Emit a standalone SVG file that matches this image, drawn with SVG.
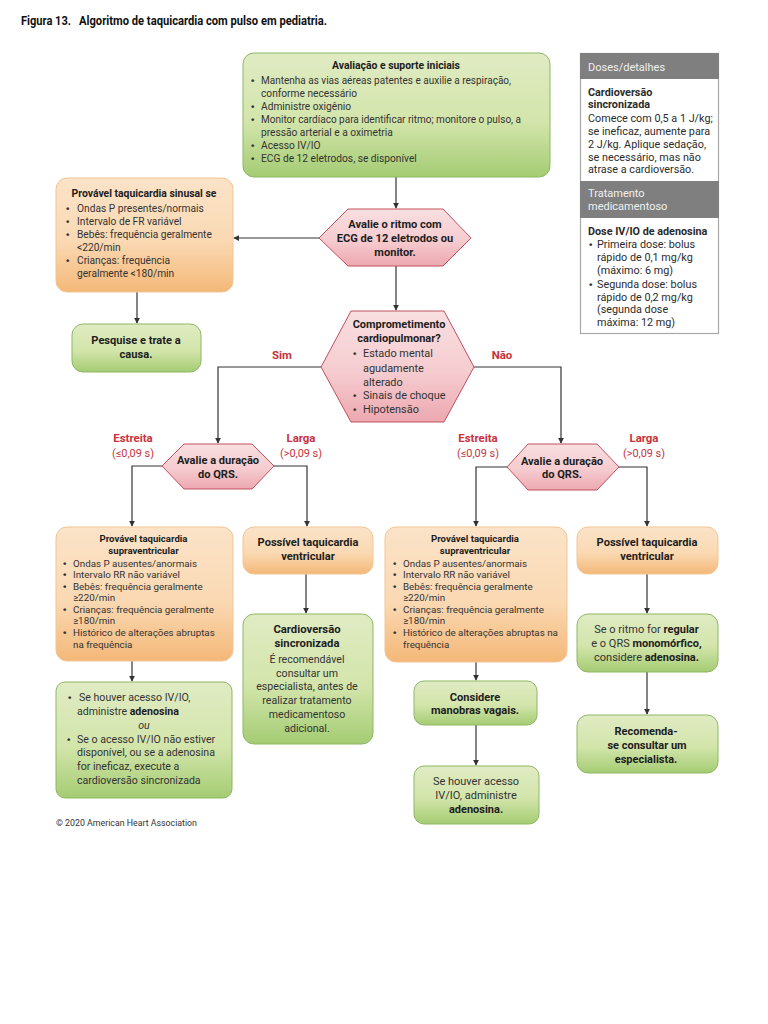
<svg xmlns="http://www.w3.org/2000/svg" width="768" height="1024" viewBox="0 0 768 1024">
<defs>
<linearGradient id="gg" x1="0" y1="0" x2="0" y2="1"><stop offset="0" stop-color="#e0ebc3"/><stop offset="0.55" stop-color="#d3e5ab"/><stop offset="1" stop-color="#a4cc73"/></linearGradient>
<linearGradient id="og" x1="0" y1="0" x2="0" y2="1"><stop offset="0" stop-color="#fbe3c8"/><stop offset="0.55" stop-color="#fad9b3"/><stop offset="1" stop-color="#f4b878"/></linearGradient>
<linearGradient id="rg" x1="0" y1="0" x2="0" y2="1"><stop offset="0" stop-color="#f9dfe0"/><stop offset="0.55" stop-color="#f5ccd0"/><stop offset="1" stop-color="#eda8b0"/></linearGradient>
<marker id="a" viewBox="0 0 8 8" refX="7" refY="4" markerWidth="6" markerHeight="6" markerUnits="userSpaceOnUse" orient="auto"><path d="M0 0L8 4L0 8Z" fill="#333"/></marker>
</defs>
<style>
text{font-family:"Roboto","Liberation Sans",sans-serif;fill:#333;font-size:10.6px}
.b{font-weight:700;fill:#1d1d1d}
.c{text-anchor:middle}
.r{font-weight:700;fill:#c8323c;text-anchor:middle;font-size:11.4px}
.rr{font-weight:400;fill:#c8323c;text-anchor:middle;font-size:10.9px}
.t{font-size:11.1px}
.s{font-size:9.8px}
.m{font-size:10.2px}
.d{font-size:15px}
.e{font-size:9.8px;font-weight:700;font-family:"Liberation Sans",sans-serif}
.g{fill:url(#gg);stroke:#8fb765;stroke-width:1}
.o{fill:url(#og);stroke:#f2c594;stroke-width:1}
.h{fill:url(#rg);stroke:#c0505f;stroke-width:1}
.w{fill:#fff;stroke:#a8a8a8;stroke-width:1.2}
.hd{fill:#7f7f7f}
.ht{fill:#f0f0f0;font-size:11px}
.k{fill:#2b2b2b;font-size:10.8px}
#conn path{fill:none;stroke:#333;stroke-width:1.2;marker-end:url(#a)}
</style>
<rect width="768" height="1024" fill="#fff"/>
<g id="title">
<text x="21" y="25" class="b" style="font-size:12.5px;fill:#111" textLength="50" lengthAdjust="spacingAndGlyphs">Figura 13.</text>
<text x="79" y="25" class="b" style="font-size:12.5px;fill:#111" textLength="248" lengthAdjust="spacingAndGlyphs">Algoritmo de taquicardia com pulso em pediatria.</text>
</g>
<g id="conn">
<path d="M396 177V208"/>
<path d="M319 238H234"/>
<path d="M396 266V310"/>
<path d="M137 292V323"/>
<path d="M321 367H218V443"/>
<path d="M474 367H561V443"/>
<path d="M162 466H132V526"/>
<path d="M274 466H307V526"/>
<path d="M507 467H476V526"/>
<path d="M619 467H647V526"/>
<path d="M132 661V681"/>
<path d="M306 574V613"/>
<path d="M476 662V680"/>
<path d="M476 725V765"/>
<path d="M647 574V613"/>
<path d="M647 672V714"/>
</g>
<g id="n-inicial">
<rect class="g" x="243" y="53" width="307" height="124" rx="11"/>
<text x="396" y="69" class="b c" style="font-size:10.4px">Avaliação e suporte iniciais</text>
<text x="251" y="84" class="e">•</text><text x="261" y="84" class="m" textLength="250" lengthAdjust="spacingAndGlyphs">Mantenha as vias aéreas patentes e auxilie a respiração,</text>
<text x="261" y="97" class="m">conforme necessário</text>
<text x="251" y="110" class="e">•</text><text x="261" y="110" class="m">Administre oxigênio</text>
<text x="251" y="123" class="e">•</text><text x="261" y="123" class="m" textLength="260" lengthAdjust="spacingAndGlyphs">Monitor cardíaco para identificar ritmo; monitore o pulso, a</text>
<text x="261" y="136" class="m">pressão arterial e a oximetria</text>
<text x="251" y="149" class="e">•</text><text x="261" y="149" class="m">Acesso IV/IO</text>
<text x="251" y="162" class="e">•</text><text x="261" y="162" class="m">ECG de 12 eletrodos, se disponível</text>
</g>
<g id="n-sinusal">
<rect class="o" x="56" y="178" width="177" height="114" rx="11"/>
<text x="144" y="197" class="b c" style="font-size:10.4px">Provável taquicardia sinusal se</text>
<text x="66" y="212" class="e">•</text><text x="77" y="212" class="m">Ondas P presentes/normais</text>
<text x="66" y="225" class="e">•</text><text x="77" y="225" class="m">Intervalo de FR variável</text>
<text x="66" y="238" class="e">•</text><text x="77" y="238" class="m">Bebês: frequência geralmente</text>
<text x="77" y="251" class="m">&lt;220/min</text>
<text x="66" y="264" class="e">•</text><text x="77" y="264" class="m">Crianças: frequência</text>
<text x="77" y="277" class="m">geralmente &lt;180/min</text>
</g>
<g id="n-causa">
<rect class="g" x="72" y="324" width="129" height="48" rx="11"/>
<text x="136" y="344" class="b c t">Pesquise e trate a</text>
<text x="136" y="358" class="b c t">causa.</text>
</g>
<g id="n-ritmo">
<polygon class="h" points="319,238 348,209 443,209 471,238 443,266 348,266"/>
<text x="395" y="228" class="b c t">Avalie o ritmo com</text>
<text x="395" y="242" class="b c t">ECG de 12 eletrodos ou</text>
<text x="395" y="256" class="b c t">monitor.</text>
</g>
<g id="n-comprometimento">
<polygon class="h" points="321,367 351,311 444,311 474,367 444,422 351,422"/>
<text x="399" y="328" class="b c" style="font-size:11px">Comprometimento</text>
<text x="399" y="342" class="b c" style="font-size:11px">cardiopulmonar?</text>
<text x="353" y="357" class="e">•</text><text x="363" y="357" style="font-size:10.9px">Estado mental</text>
<text x="363" y="372" style="font-size:10.9px">agudamente</text>
<text x="363" y="386" style="font-size:10.9px">alterado</text>
<text x="353" y="399" class="e">•</text><text x="363" y="399" style="font-size:10.9px">Sinais de choque</text>
<text x="353" y="413" class="e">•</text><text x="363" y="413" style="font-size:10.9px">Hipotensão</text>
</g>
<text x="282" y="359" class="r">Sim</text>
<text x="502" y="359" class="r">Não</text>
<text x="133" y="442" class="r">Estreita</text>
<text x="133" y="457" class="rr">(≤0,09 s)</text>
<text x="301" y="442" class="r">Larga</text>
<text x="301" y="457" class="rr">(&gt;0,09 s)</text>
<text x="478" y="442" class="r">Estreita</text>
<text x="478" y="457" class="rr">(≤0,09 s)</text>
<text x="644" y="442" class="r">Larga</text>
<text x="644" y="457" class="rr">(&gt;0,09 s)</text>
<g id="n-qrs1">
<polygon class="h" points="162,466 184,444 252,444 274,466 252,489 184,489"/>
<text x="218" y="464" class="b c t">Avalie a duração</text>
<text x="218" y="478" class="b c t">do QRS.</text>
</g>
<g id="n-qrs2">
<polygon class="h" points="507,467 528,444 597,444 619,467 597,490 528,490"/>
<text x="562" y="465" class="b c t">Avalie a duração</text>
<text x="562" y="478" class="b c t">do QRS.</text>
</g>
<g id="n-supra1">
<rect class="o" x="56" y="527" width="177" height="134" rx="11"/>
<text x="143.500" y="542" class="b c" style="font-size:9.6px">Provável taquicardia</text>
<text x="143.500" y="554" class="b c" style="font-size:9.6px">supraventricular</text>
<text x="63" y="567" class="e">•</text><text x="73" y="567" class="s">Ondas P ausentes/anormais</text>
<text x="63" y="578" class="e">•</text><text x="73" y="578" class="s">Intervalo RR não variável</text>
<text x="63" y="590" class="e">•</text><text x="73" y="590" class="s">Bebês: frequência geralmente</text>
<text x="73" y="601" class="s">≥220/min</text>
<text x="63" y="613" class="e">•</text><text x="73" y="613" class="s">Crianças: frequência geralmente</text>
<text x="73" y="624" class="s">≥180/min</text>
<text x="63" y="636" class="e">•</text><text x="73" y="636" class="s">Histórico de alterações abruptas</text>
<text x="73" y="648" class="s">na frequência</text>
</g>
<g id="n-tv1">
<rect class="o" x="243" y="527" width="130" height="47" rx="11"/>
<text x="308" y="546" class="b c t">Possível taquicardia</text>
<text x="308" y="560" class="b c t">ventricular</text>
</g>
<g id="n-adeno1">
<rect class="g" x="56" y="682" width="176" height="116" rx="9"/>
<text x="68" y="701" class="e">•</text><text x="79" y="701">Se houver acesso IV/IO,</text>
<text x="77" y="715">administre <tspan class="b">adenosina</tspan></text>
<text x="144" y="729" class="c" font-style="italic">ou</text>
<text x="67" y="743" class="e">•</text><text x="77" y="743">Se o acesso IV/IO não estiver</text>
<text x="77" y="756">disponível, ou se a adenosina</text>
<text x="77" y="770">for ineficaz, execute a</text>
<text x="77" y="784">cardioversão sincronizada</text>
</g>
<g id="n-cardio">
<rect class="g" x="243" y="614" width="130" height="130" rx="11"/>
<text x="307" y="633" class="b c" style="font-size:11.300px">Cardioversão</text>
<text x="307" y="647" class="b c" style="font-size:11.300px">sincronizada</text>
<text x="307" y="663" class="c">É recomendável</text>
<text x="307" y="677" class="c">consultar um</text>
<text x="307" y="690" class="c">especialista, antes de</text>
<text x="307" y="704" class="c">realizar tratamento</text>
<text x="307" y="718" class="c">medicamentoso</text>
<text x="307" y="732" class="c">adicional.</text>
</g>
<g id="n-supra2">
<rect class="o" x="385" y="527" width="182" height="135" rx="11"/>
<text x="475" y="542" class="b c" style="font-size:9.6px">Provável taquicardia</text>
<text x="475" y="554" class="b c" style="font-size:9.6px">supraventricular</text>
<text x="393" y="567" class="e">•</text><text x="403" y="567" class="s">Ondas P ausentes/anormais</text>
<text x="393" y="578" class="e">•</text><text x="403" y="578" class="s">Intervalo RR não variável</text>
<text x="393" y="590" class="e">•</text><text x="403" y="590" class="s">Bebês: frequência geralmente</text>
<text x="403" y="601" class="s">≥220/min</text>
<text x="393" y="613" class="e">•</text><text x="403" y="613" class="s">Crianças: frequência geralmente</text>
<text x="403" y="624" class="s">≥180/min</text>
<text x="393" y="636" class="e">•</text><text x="403" y="636" class="s">Histórico de alterações abruptas na</text>
<text x="403" y="648" class="s">frequência</text>
</g>
<g id="n-vagais">
<rect class="g" x="414" y="681" width="123" height="44" rx="10"/>
<text x="475" y="701" class="b c t">Considere</text>
<text x="475" y="714" class="b c t">manobras vagais.</text>
</g>
<g id="n-adeno2">
<rect class="g" x="414" y="766" width="125" height="58" rx="10"/>
<text x="476" y="785" class="c" style="font-size:11px">Se houver acesso</text>
<text x="476" y="799" class="c" style="font-size:11px">IV/IO, administre</text>
<text x="476" y="813" class="b c" style="font-size:11px">adenosina.</text>
</g>
<g id="n-tv2">
<rect class="o" x="577" y="527" width="141" height="47" rx="11"/>
<text x="647" y="546" class="b c t">Possível taquicardia</text>
<text x="647" y="560" class="b c t">ventricular</text>
</g>
<g id="n-regular">
<rect class="g" x="577" y="614" width="141" height="58" rx="11"/>
<text x="646.500" y="633" class="c" style="font-size:11px">Se o ritmo for <tspan class="b">regular</tspan></text>
<text x="646.500" y="647" class="c" style="font-size:11px">e o QRS <tspan class="b">monomórfico,</tspan></text>
<text x="646.500" y="661" class="c" style="font-size:11px">considere <tspan class="b">adenosina.</tspan></text>
</g>
<g id="n-recomenda">
<rect class="g" x="577" y="715" width="141" height="58" rx="11"/>
<text x="646" y="735" class="b c" style="font-size:11px">Recomenda-</text>
<text x="647" y="749" class="b c" style="font-size:11px">se consultar um</text>
<text x="646" y="763" class="b c" style="font-size:11px">especialista.</text>
</g>
<text id="copy" x="56" y="826" style="font-size:8.8px">© 2020 American Heart Association</text>
<g id="n-doses">
<rect class="w" x="580.500" y="53.500" width="138" height="280"/>
<rect class="hd" x="580" y="53" width="139" height="26"/>
<text x="588" y="71" class="ht">Doses/detalhes</text>
<text x="588" y="96" class="k b">Cardioversão</text>
<text x="588" y="108" class="k b">sincronizada</text>
<text x="588" y="122" class="k">Comece com 0,5 a 1 J/kg;</text>
<text x="588" y="135" class="k">se ineficaz, aumente para</text>
<text x="588" y="148" class="k">2 J/kg. Aplique sedação,</text>
<text x="588" y="161" class="k">se necessário, mas não</text>
<text x="588" y="173" class="k">atrase a cardioversão.</text>
<rect class="hd" x="580" y="181" width="139" height="37"/>
<text x="588" y="197" class="ht">Tratamento</text>
<text x="588" y="210" class="ht">medicamentoso</text>
<text x="588" y="235" class="k b">Dose IV/IO de adenosina</text>
<text x="589" y="248" class="e">•</text><text x="597" y="248" class="k">Primeira dose: bolus</text>
<text x="597" y="261" class="k">rápido de 0,1 mg/kg</text>
<text x="597" y="274" class="k">(máximo: 6 mg)</text>
<text x="589" y="288" class="e">•</text><text x="597" y="288" class="k">Segunda dose: bolus</text>
<text x="597" y="301" class="k">rápido de 0,2 mg/kg</text>
<text x="597" y="313" class="k">(segunda dose</text>
<text x="597" y="326" class="k">máxima: 12 mg)</text>
</g>
</svg>
